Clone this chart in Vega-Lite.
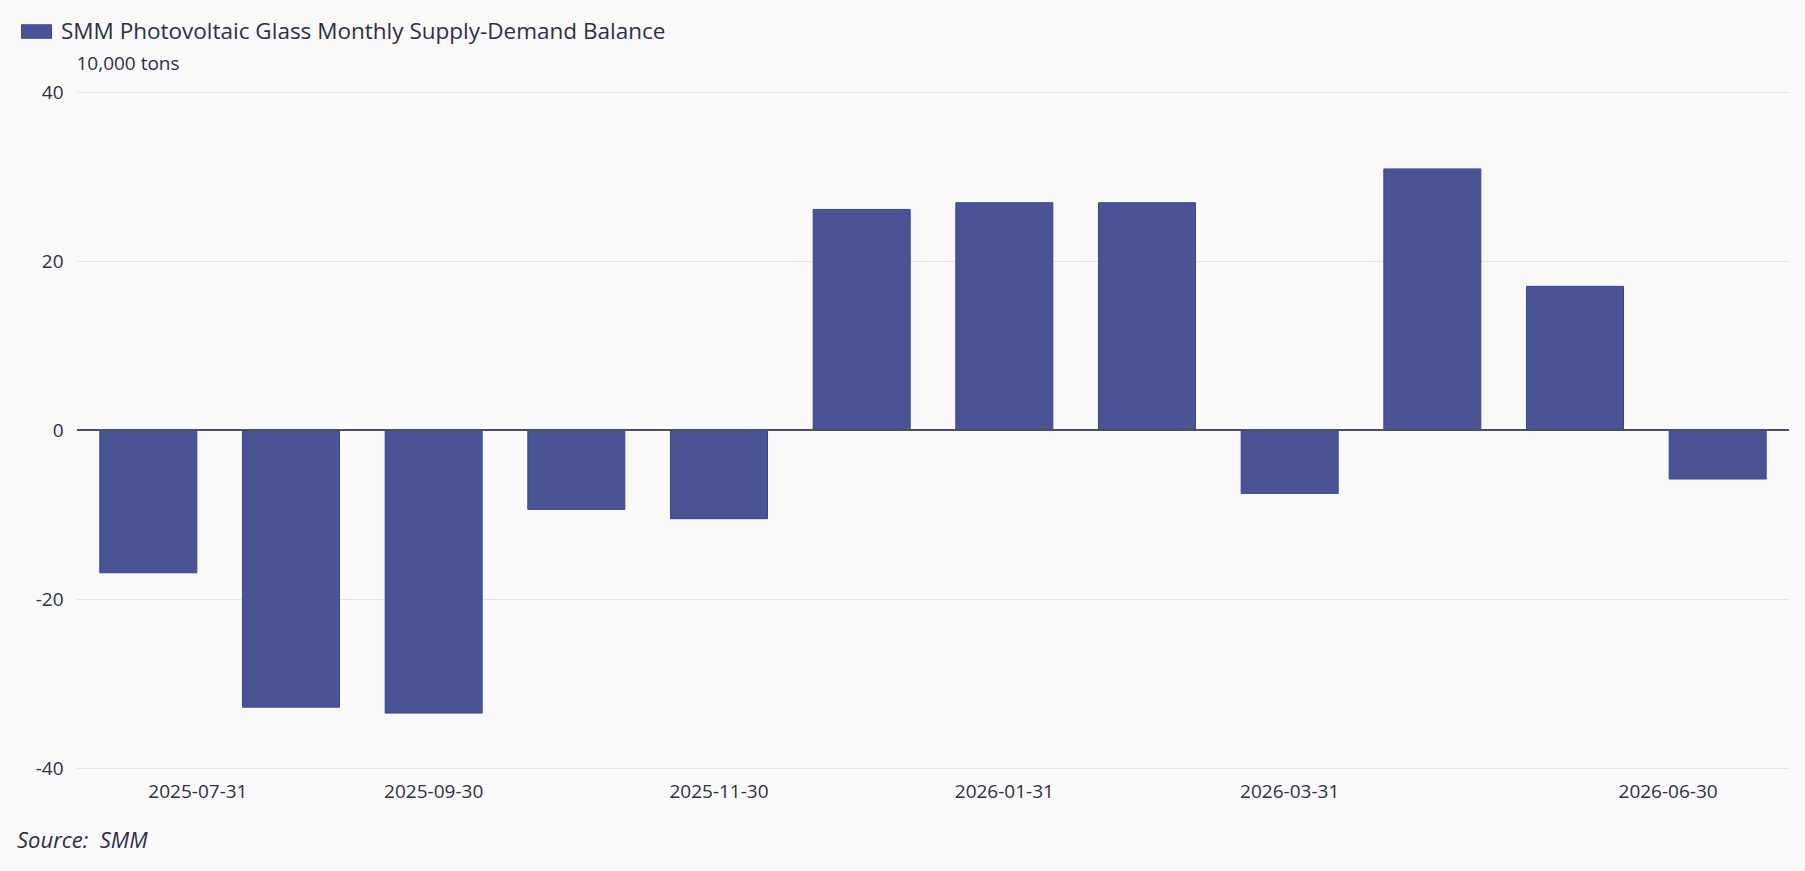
{
  "$schema": "https://vega.github.io/schema/vega-lite/v6.json",
  "description": "SMM Photovoltaic Glass Monthly Supply-Demand Balance",
  "autosize": "none",
  "padding": {"left": 77, "top": 92, "right": 16, "bottom": 103},
  "width": 1712,
  "height": 676,
  "background": "#fafafb",
  "config": {
    "font": "Open Sans",
    "view": {"stroke": null},
    "axis": {"labelColor": "#2e2e48", "titleColor": "#2e2e48", "labelFontSize": 19},
    "legend": {"labelColor": "#2e2e48", "labelFontSize": 22.5}
  },
  "title": {
    "text": "Source:\u00a0 SMM",
    "orient": "bottom",
    "anchor": "start",
    "frame": "group",
    "dx": -60,
    "offset": 30,
    "fontSize": 22,
    "fontStyle": "italic",
    "fontWeight": "normal",
    "color": "#2e2e48"
  },
  "data": {
    "values": [
      {"date": "2025-07-31", "balance": -16.9, "series": "SMM Photovoltaic Glass Monthly Supply-Demand Balance"},
      {"date": "2025-08-31", "balance": -32.8, "series": "SMM Photovoltaic Glass Monthly Supply-Demand Balance"},
      {"date": "2025-09-30", "balance": -33.5, "series": "SMM Photovoltaic Glass Monthly Supply-Demand Balance"},
      {"date": "2025-10-31", "balance": -9.4, "series": "SMM Photovoltaic Glass Monthly Supply-Demand Balance"},
      {"date": "2025-11-30", "balance": -10.5, "series": "SMM Photovoltaic Glass Monthly Supply-Demand Balance"},
      {"date": "2025-12-31", "balance": 26.1, "series": "SMM Photovoltaic Glass Monthly Supply-Demand Balance"},
      {"date": "2026-01-31", "balance": 26.9, "series": "SMM Photovoltaic Glass Monthly Supply-Demand Balance"},
      {"date": "2026-02-28", "balance": 26.9, "series": "SMM Photovoltaic Glass Monthly Supply-Demand Balance"},
      {"date": "2026-03-31", "balance": -7.5, "series": "SMM Photovoltaic Glass Monthly Supply-Demand Balance"},
      {"date": "2026-04-30", "balance": 30.9, "series": "SMM Photovoltaic Glass Monthly Supply-Demand Balance"},
      {"date": "2026-05-31", "balance": 17.0, "series": "SMM Photovoltaic Glass Monthly Supply-Demand Balance"},
      {"date": "2026-06-30", "balance": -5.8, "series": "SMM Photovoltaic Glass Monthly Supply-Demand Balance"}
    ]
  },
  "layer": [
    {
      "mark": {"type": "bar", "stroke": "#3b4596", "strokeWidth": 1},
      "encoding": {
        "x": {
          "field": "date",
          "type": "ordinal",
          "sort": null,
          "scale": {"paddingInner": 0.32, "paddingOuter": 0.16},
          "axis": {
            "title": null,
            "values": ["2025-07-31", "2025-09-30", "2025-11-30", "2026-01-31", "2026-03-31", "2026-06-30"],
            "labelAngle": 0,
            "labelAlign": {
              "condition": [
                {"test": "datum.value === '2025-07-31'", "value": "left"},
                {"test": "datum.value === '2026-06-30'", "value": "right"}
              ],
              "value": "center"
            },
            "domain": false,
            "ticks": false,
            "labelPadding": 14
          }
        },
        "y": {
          "field": "balance",
          "type": "quantitative",
          "scale": {"domain": [-40, 40]},
          "axis": {
            "values": [-40, -20, 0, 20, 40],
            "labelExpr": "toString(datum.value)",
            "title": "10,000 tons",
            "titleAngle": 0,
            "titleAlign": "left",
            "titleBaseline": "middle",
            "titleX": -1,
            "titleY": -29,
            "titleFontSize": 19,
            "titleFontWeight": "normal",
            "domain": false,
            "ticks": false,
            "labelPadding": 14,
            "gridColor": "#e3e3ec",
            "gridWidth": 1.2
          }
        },
        "color": {
          "field": "series",
          "type": "nominal",
          "scale": {"range": ["#4a5495"]},
          "legend": {
            "title": null,
            "orient": "none",
            "legendX": -56,
            "legendY": -76,
            "labelLimit": 0,
            "labelOffset": 9,
            "symbolType": "M-1,-0.45H1V0.45H-1Z",
            "symbolSize": 900,
            "symbolStrokeColor": "#3b4596",
            "symbolStrokeWidth": 1
          }
        }
      }
    },
    {
      "mark": {"type": "rule", "color": "#4b4f66", "strokeWidth": 1.5},
      "encoding": {"y": {"datum": 0}}
    }
  ]
}
